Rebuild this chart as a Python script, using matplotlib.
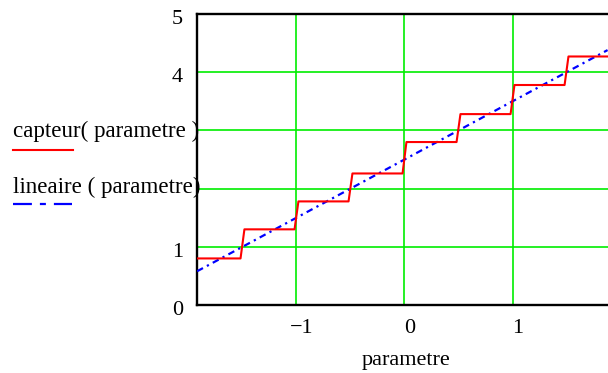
import numpy as np
import matplotlib
matplotlib.use('Agg')
import matplotlib.pyplot as plt
import matplotlib.transforms as mtransforms

plt.rcParams['font.family'] = ['Liberation Serif', 'DejaVu Serif']

# capteur(parametre): staircase
step_edges = [-1.5, -1.0, -0.5, 0.0, 0.5, 1.0, 1.5]
capteur_levels = [0.80, 1.30, 1.78, 2.26, 2.80, 3.28, 3.78, 4.27]
# lineaire(parametre): straight line
lineaire_x = [-1.92, 1.88]
lineaire_y = [0.58, 4.38]

xticks = [-1, 0, 1]
xtick_labels = ['\u22121', '0', '1']
yticks = [0, 1, 2, 3, 4, 5]
# 2 and 3 are hidden behind the trace names in the original
ytick_labels = ['0', '1', '', '', '4', '5']

x_min, x_max = -1.921, 1.884

# build staircase vertices (short slanted rise at each edge, as sampled)
half = 0.018
cx = [x_min]
cy = [capteur_levels[0]]
for i, e in enumerate(step_edges):
    cx += [e - half, e + half]
    cy += [capteur_levels[i], capteur_levels[i + 1]]
cx.append(x_max)
cy.append(capteur_levels[-1])

fig = plt.figure(figsize=(6.08, 3.73), dpi=100)
ax = fig.add_axes([197 / 608, 1 - 305 / 373, 1 - 197 / 608, (305 - 14) / 373])

green = '#00ee00'
for xv in xticks:
    ax.axvline(xv, color=green, lw=1.2, zorder=1)
for yv in yticks[1:-1]:
    ax.axhline(yv, color=green, lw=1.2, zorder=1)

ax.plot(lineaire_x, lineaire_y, color='#0000ff', lw=1.6,
        dashes=(3, 2, 1, 2), zorder=3)
ax.plot(cx, cy, color='#ff0000', lw=1.5, zorder=4)

ax.set_xlim(x_min, x_max)
ax.set_ylim(0, 5)
ax.set_xticks(xticks)
ax.set_xticklabels(xtick_labels, fontsize=16)
ax.set_yticks(yticks)
ax.set_yticklabels(ytick_labels, fontsize=16)
ax.tick_params(length=0, pad=10)

for lab in ax.get_xticklabels():
    lab.set_transform(lab.get_transform() + mtransforms.ScaledTranslation(5 / 100, 0, fig.dpi_scale_trans))
for lab in ax.get_yticklabels():
    lab.set_transform(lab.get_transform() + mtransforms.ScaledTranslation(0, -3 / 100, fig.dpi_scale_trans))

ax.set_xlabel('parametre', fontsize=16)
ax.xaxis.set_label_coords((406 - 197) / (608 - 197), -(360 - 305) / (305 - 14), transform=ax.transAxes)
ax.xaxis.label.set_va('center')

for side in ['top', 'bottom', 'left']:
    ax.spines[side].set_color('black')
    ax.spines[side].set_linewidth(1.7)
ax.spines['right'].set_visible(False)

# trace names on the left
fig.text(13 / 608, 1 - 137 / 373, 'capteur( parametre )', fontsize=16.6,
         va='baseline', ha='left', zorder=10)
fig.text(13 / 608, 1 - 193 / 373, 'lineaire ( parametre)', fontsize=16.6,
         va='baseline', ha='left', zorder=10)
fig.add_artist(plt.Line2D([13 / 608, 73 / 608], [1 - 150 / 373] * 2,
                          color='#ff0000', lw=1.5))
fig.add_artist(plt.Line2D([13 / 608, 72 / 608], [1 - 204 / 373] * 2,
                          color='#0000ff', lw=1.6, dashes=(8.5, 3.6, 2.7, 3.6)))

fig.savefig('out.png', dpi=100)
